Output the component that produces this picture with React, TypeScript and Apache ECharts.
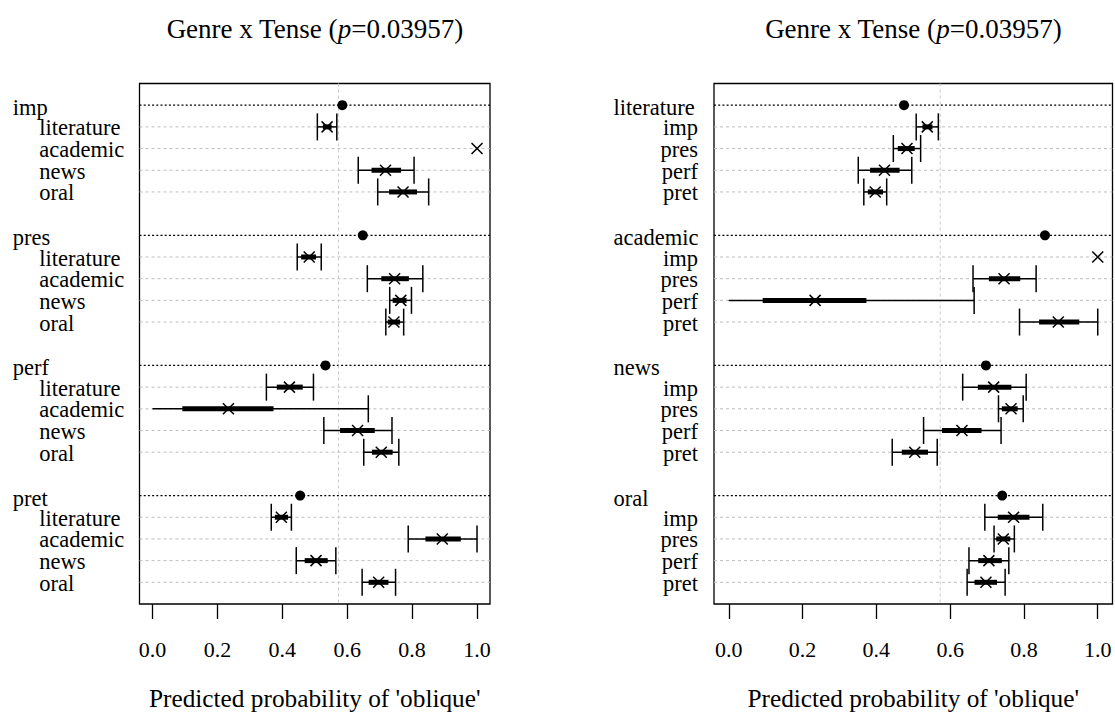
import React, { useEffect, useRef } from "react";
import * as echarts from "echarts";

// ---------- data ----------
const tenses = ["imp", "pres", "perf", "pret"];
const genres = ["literature", "academic", "news", "oral"];
// rows = tense, columns = genre
const estimate = [
  [0.538, 1.0, 0.718, 0.772],
  [0.483, 0.746, 0.765, 0.744],
  [0.422, 0.234, 0.632, 0.705],
  [0.397, 0.893, 0.504, 0.697],
];
const lower95 = [
  [0.508, null, 0.634, 0.694],
  [0.446, 0.662, 0.731, 0.719],
  [0.351, 0.0, 0.528, 0.651],
  [0.366, 0.788, 0.443, 0.646],
];
const upper95 = [
  [0.568, null, 0.806, 0.851],
  [0.52, 0.833, 0.798, 0.774],
  [0.496, 0.665, 0.738, 0.759],
  [0.428, 1.0, 0.565, 0.749],
];
const lower50 = [
  [0.525, null, 0.675, 0.729],
  [0.458, 0.705, 0.74, 0.725],
  [0.383, 0.092, 0.578, 0.676],
  [0.377, 0.841, 0.469, 0.666],
];
const upper50 = [
  [0.552, null, 0.766, 0.815],
  [0.504, 0.79, 0.783, 0.763],
  [0.463, 0.373, 0.685, 0.74],
  [0.418, 0.95, 0.54, 0.727],
];
const tenseMeans = [0.585, 0.648, 0.533, 0.455];
const genreMeans = [0.475, 0.857, 0.697, 0.741];
const overallMean = 0.573;
const xTicks = [0, 0.2, 0.4, 0.6, 0.8, 1.0];
const titleText = "{n|Genre x Tense (}{i|p}{n|=0.03957)}";
const axisTitle = "Predicted probability of 'oblique'";

// ---------- layout ----------
const FONT = "'Liberation Serif', 'Times New Roman', serif";
const X_MIN = -0.04;
const X_MAX = 1.04;
const Y_MIN = -1;
const Y_MAX = 23;
const GROUP_STEP = 6;

type Row = {
  row: number;
  header: boolean;
  label: string;
  est: number;
  lo: number | null;
  hi: number | null;
  lo50: number | null;
  hi50: number | null;
};

function buildRows(byTense: boolean): Row[] {
  const rows: Row[] = [];
  const outer = byTense ? tenses : genres;
  const inner = byTense ? genres : tenses;
  const means = byTense ? tenseMeans : genreMeans;
  outer.forEach((o, gi) => {
    const base = gi * GROUP_STEP;
    rows.push({ row: base, header: true, label: o, est: means[gi], lo: null, hi: null, lo50: null, hi50: null });
    inner.forEach((inn, ii) => {
      const t = byTense ? gi : ii;
      const g = byTense ? ii : gi;
      rows.push({
        row: base + 1 + ii,
        header: false,
        label: inn,
        est: estimate[t][g],
        lo: lower95[t][g],
        hi: upper95[t][g],
        lo50: lower50[t][g],
        hi50: upper50[t][g],
      });
    });
  });
  return rows;
}

const panels = [
  { rows: buildRows(true), left: 139.5, width: 350.5, headerOff: -126.8, headerAlign: "left", itemOff: -100.2, itemAlign: "left" },
  { rows: buildRows(false), left: 714, width: 398.5, headerOff: -100.5, headerAlign: "left", itemOff: -16, itemAlign: "right" },
];
const GRID_TOP = 83.5;
const GRID_H = 520.5;

export default function App() {
  const ref = useRef<HTMLDivElement>(null);
  useEffect(() => {
    if (!ref.current) return;
    const chart = echarts.init(ref.current, undefined, { renderer: "svg" });

    const grids: any[] = [];
    const xAxes: any[] = [];
    const yAxes: any[] = [];
    const series: any[] = [];
    const graphics: any[] = [];

    panels.forEach((p, pi) => {
      grids.push({
        left: p.left,
        top: GRID_TOP,
        width: p.width,
        height: GRID_H,
        show: true,
        borderColor: "#000",
        borderWidth: 1.3,
        backgroundColor: "transparent",
        containLabel: false,
        outerBoundsMode: "none",
      });
      xAxes.push({
        gridIndex: pi,
        type: "value",
        position: "bottom",
        min: X_MIN,
        max: X_MAX,
        splitLine: { show: false },
        axisLine: { show: false, onZero: false },
        axisTick: { show: true, customValues: xTicks, length: 15, lineStyle: { color: "#000", width: 1.3 } },
        axisLabel: {
          customValues: xTicks,
          formatter: (v: number) => v.toFixed(1),
          margin: 34,
          fontSize: 22,
          color: "#000",
          fontFamily: FONT,
        },
        name: axisTitle,
        nameLocation: "middle",
        nameGap: 81,
        nameTextStyle: { fontSize: 25.3, color: "#000", fontFamily: FONT },
      });
      yAxes.push({
        gridIndex: pi,
        type: "value",
        min: Y_MIN,
        max: Y_MAX,
        inverse: true,
        show: false,
      });

      const rows = p.rows;
      const items = rows.filter((r) => !r.header);
      const headers = rows.filter((r) => r.header);

      // row guide lines
      series.push({
        type: "custom",
        xAxisIndex: pi,
        yAxisIndex: pi,
        z: 1,
        silent: true,
        data: rows.map((r) => [X_MIN, r.row]),
        encode: { x: 0, y: 1 },
        renderItem: (params: any, api: any) => {
          const r = rows[params.dataIndex];
          const a = api.coord([X_MIN, r.row]);
          const b = api.coord([X_MAX, r.row]);
          return {
            type: "line",
            shape: { x1: a[0], y1: a[1], x2: b[0], y2: b[1] },
            style: r.header
              ? { stroke: "#000", lineWidth: 1.2, lineDash: [2, 2.2] }
              : { stroke: "#bdbdbd", lineWidth: 1, lineDash: [3, 3] },
          };
        },
      });
      // overall mean reference line
      series.push({
        type: "custom",
        xAxisIndex: pi,
        yAxisIndex: pi,
        z: 1,
        silent: true,
        data: [[overallMean, Y_MIN]],
        encode: { x: 0, y: 1 },
        renderItem: (params: any, api: any) => {
          const a = api.coord([overallMean, Y_MIN]);
          const b = api.coord([overallMean, Y_MAX]);
          return {
            type: "line",
            shape: { x1: a[0], y1: a[1], x2: b[0], y2: b[1] },
            style: { stroke: "#c8c8c8", lineWidth: 1, lineDash: [3, 3] },
          };
        },
      });
      // error bars + estimate crosses
      series.push({
        type: "custom",
        xAxisIndex: pi,
        yAxisIndex: pi,
        z: 3,
        silent: true,
        data: items.map((r) => [r.est, r.row]),
        encode: { x: 0, y: 1 },
        renderItem: (params: any, api: any) => {
          const r = items[params.dataIndex];
          const c = api.coord([r.est, r.row]);
          const y = c[1];
          const cap = 13.5;
          const thin = { stroke: "#000", lineWidth: 1.5 };
          const children: any[] = [];
          if (r.lo != null && r.hi != null) {
            const x1 = api.coord([r.lo, r.row])[0];
            const x2 = api.coord([r.hi, r.row])[0];
            children.push({ type: "line", shape: { x1, y1: y, x2, y2: y }, style: thin });
            if (r.lo > 0) children.push({ type: "line", shape: { x1, y1: y - cap, x2: x1, y2: y + cap }, style: thin });
            children.push({ type: "line", shape: { x1: x2, y1: y - cap, x2, y2: y + cap }, style: thin });
          }
          if (r.lo50 != null && r.hi50 != null) {
            const x1 = api.coord([r.lo50, r.row])[0];
            const x2 = api.coord([r.hi50, r.row])[0];
            children.push({
              type: "line",
              shape: { x1, y1: y, x2, y2: y },
              style: { stroke: "#000", lineWidth: 5, lineCap: "butt" },
            });
          }
          const s = 5.5;
          children.push({ type: "line", shape: { x1: c[0] - s, y1: y - s, x2: c[0] + s, y2: y + s }, style: thin });
          children.push({ type: "line", shape: { x1: c[0] - s, y1: y + s, x2: c[0] + s, y2: y - s }, style: thin });
          return { type: "group", children };
        },
      });
      // group means
      series.push({
        type: "scatter",
        xAxisIndex: pi,
        yAxisIndex: pi,
        z: 4,
        silent: true,
        symbol: "circle",
        symbolSize: 10,
        itemStyle: { color: "#000", opacity: 1 },
        data: headers.map((r) => [r.est, r.row]),
      });
      // row labels
      series.push({
        type: "custom",
        xAxisIndex: pi,
        yAxisIndex: pi,
        z: 5,
        silent: true,
        clip: false,
        data: rows.map((r) => [X_MIN, r.row]),
        encode: { x: 0, y: 1 },
        renderItem: (params: any, api: any) => {
          const r = rows[params.dataIndex];
          const c = api.coord([X_MIN, r.row]);
          return {
            type: "text",
            x: c[0] + (r.header ? p.headerOff : p.itemOff),
            y: c[1] + (r.header ? 2.5 : 1),
            style: {
              text: r.label,
              fill: "#000",
              fontSize: 22.5,
              lineHeight: 19,
              fontFamily: FONT,
              align: r.header ? p.headerAlign : p.itemAlign,
              verticalAlign: "middle",
            },
          };
        },
      });

      graphics.push({
        type: "text",
        x: p.left + p.width / 2,
        y: 29,
        style: {
          text: titleText,
          align: "center",
          verticalAlign: "middle",
          rich: {
            n: { fontSize: 27, fontFamily: FONT, fill: "#000", color: "#000" },
            i: { fontSize: 27, fontFamily: FONT, fontStyle: "italic", fill: "#000", color: "#000" },
          },
        },
      });
    });

    chart.setOption({
      animation: false,
      backgroundColor: "#fff",
      grid: grids,
      xAxis: xAxes,
      yAxis: yAxes,
      series,
      graphic: graphics,
    });
    return () => chart.dispose();
  }, []);
  return (
    <div
      ref={ref}
      style={{ position: "fixed", left: 0, top: 0, width: 1115, height: 713 }}
    />
  );
}
